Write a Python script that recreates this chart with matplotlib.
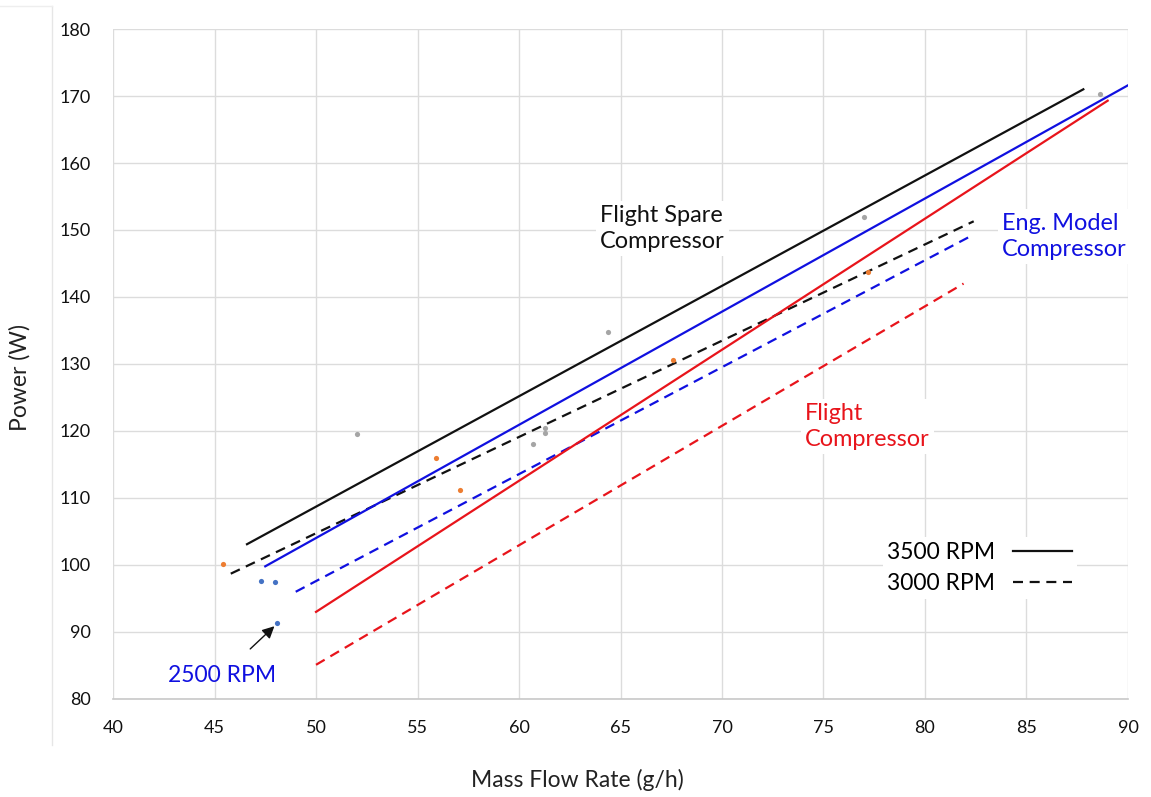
import matplotlib
matplotlib.use("Agg")
import matplotlib.pyplot as plt
from matplotlib.lines import Line2D

plt.rcParams['font.family'] = ['Lato', 'DejaVu Sans']

# ---- data ----
x_ticks = [40, 45, 50, 55, 60, 65, 70, 75, 80, 85, 90]
y_ticks = [80, 90, 100, 110, 120, 130, 140, 150, 160, 170, 180]

# trend lines (endpoints of linear fits)
spare_3500_x = [46.6, 87.8]
spare_3500_y = [103.1, 171.0]
spare_3000_x = [45.8, 82.4]
spare_3000_y = [98.7, 151.3]
eng_3500_x = [47.5, 90.0]
eng_3500_y = [99.8, 171.6]
eng_3000_x = [49.0, 82.2]
eng_3000_y = [96.0, 149.0]
flight_3500_x = [50.0, 89.0]
flight_3500_y = [93.0, 169.3]
flight_3000_x = [50.0, 81.9]
flight_3000_y = [85.1, 142.0]

# measured points
orange_x = [45.4, 55.9, 57.1, 67.6, 77.2]
orange_y = [100.2, 116.0, 111.2, 130.6, 143.7]
blue_x = [47.3, 48.0, 48.1]
blue_y = [97.6, 97.4, 91.3]
gray_x = [52.0, 60.7, 61.3, 61.3, 64.4, 77.0, 88.6]
gray_y = [119.6, 118.1, 120.4, 119.7, 134.8, 152.0, 170.3]

BLACK = '#111111'
BLUE = '#1010e0'
RED = '#e8141b'

fig = plt.figure(figsize=(11.51, 7.97), dpi=100)
ax = fig.add_axes([0.0982, 0.1230, 0.8818, 0.8406])

ax.set_xlim(40, 90)
ax.set_ylim(80, 180)
ax.set_xticks(x_ticks)
ax.set_yticks(y_ticks)
ax.grid(True, color='#dcdcdc', linewidth=1.0, zorder=0)
ax.set_axisbelow(True)
for s in ['top', 'right', 'left']:
    ax.spines[s].set_visible(False)
ax.spines['bottom'].set_color('#c8c8c8')
ax.spines['bottom'].set_linewidth(1.2)
ax.tick_params(length=0, labelsize=13, colors='#111111')
ax.tick_params(axis='x', pad=15.5)
ax.tick_params(axis='y', pad=16)

dash = (0, (4.5, 3))
lw = 1.6
ax.plot(spare_3500_x, spare_3500_y, color=BLACK, lw=lw, zorder=3)
ax.plot(spare_3000_x, spare_3000_y, color=BLACK, lw=lw, linestyle=dash, zorder=3)
ax.plot(eng_3500_x, eng_3500_y, color=BLUE, lw=lw, zorder=3)
ax.plot(eng_3000_x, eng_3000_y, color=BLUE, lw=lw, linestyle=dash, zorder=3)
ax.plot(flight_3500_x, flight_3500_y, color=RED, lw=lw, zorder=3)
ax.plot(flight_3000_x, flight_3000_y, color=RED, lw=lw, linestyle=dash, zorder=3)

ax.scatter(orange_x, orange_y, s=14, color='#ed7d31', zorder=4, linewidths=0)
ax.scatter(blue_x, blue_y, s=14, color='#4472c4', zorder=4, linewidths=0)
ax.scatter(gray_x, gray_y, s=14, color='#a5a5a5', zorder=4, linewidths=0)

box = dict(facecolor='white', edgecolor='none', pad=3)
ax.text(64.0, 150.2, 'Flight Spare\nCompressor', color=BLACK, fontsize=16.9,
        ha='left', va='center', linespacing=1.3, bbox=box, zorder=5)
ax.text(83.8, 149.0, 'Eng. Model\nCompressor', color=BLUE, fontsize=16.9,
        ha='left', va='center', linespacing=1.3, bbox=box, zorder=5)
ax.text(74.1, 120.7, 'Flight\nCompressor', color=RED, fontsize=16.9,
        ha='left', va='center', linespacing=1.3, bbox=box, zorder=5)

ax.annotate('2500 RPM', xy=(48.0, 91.0), xytext=(42.7, 83.5),
            color=BLUE, fontsize=16.5, ha='left', va='center',
            arrowprops=dict(arrowstyle='-|>', color=BLACK, lw=1.0,
                            mutation_scale=18, shrinkA=14, shrinkB=1),
            zorder=5)

handles = [Line2D([], [], color=BLACK, lw=lw),
           Line2D([], [], color=BLACK, lw=lw, linestyle=dash)]
leg = ax.legend(handles, ['3500 RPM', '3000 RPM'], markerfirst=False,
                loc='center', bbox_to_anchor=(0.854, 0.1955), frameon=True,
                fontsize=16.5, handlelength=2.6, labelspacing=0.45,
                borderpad=0.2, handletextpad=0.75)
leg.get_frame().set_facecolor('white')
leg.get_frame().set_edgecolor('none')
leg.get_frame().set_alpha(1)

ax.set_xlabel('Mass Flow Rate (g/h)', fontsize=16.5, color='#222222')
ax.set_ylabel('Power (W)', fontsize=16.5, color='#222222')
ax.xaxis.set_label_coords((577 - 113) / 1015, (699 - 780) / 670)
ax.yaxis.set_label_coords((20 - 113) / 1015, (699 - 378) / 670)
ax.xaxis.label.set_va('center')
ax.yaxis.label.set_va('center')

# faint chart-frame remnants
fig.add_artist(Line2D([52/1151, 52/1151], [1-6/797, 1-745/797],
                      color='#e6e6e6', lw=1.0, transform=fig.transFigure))
fig.add_artist(Line2D([0, 52/1151], [1-6/797, 1-6/797],
                      color='#eeeeee', lw=1.0, transform=fig.transFigure))

fig.savefig('out.png', dpi=100)
